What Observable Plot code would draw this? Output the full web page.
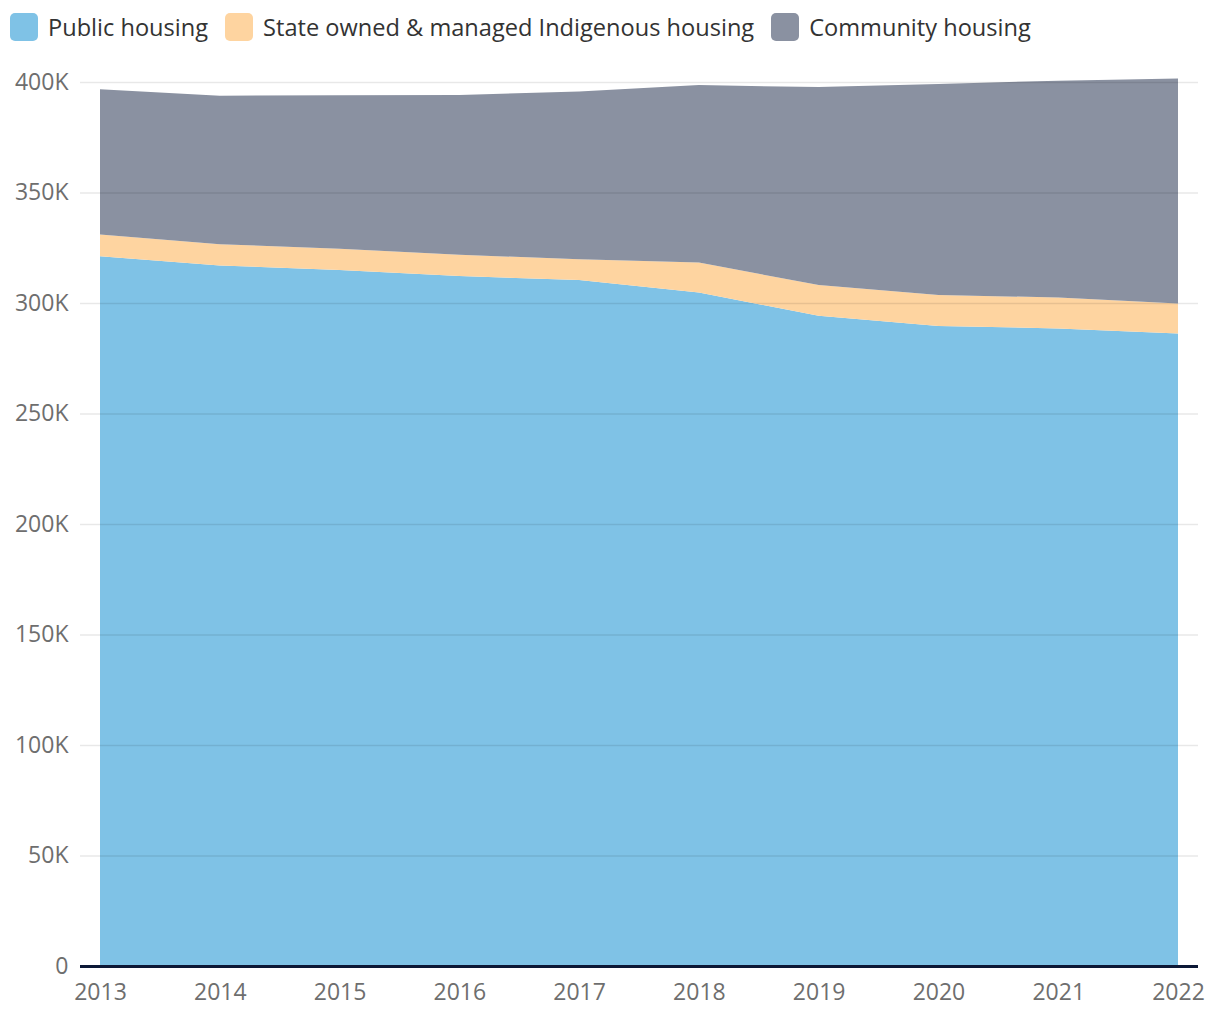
<!DOCTYPE html>
<html>
<head>
<meta charset="utf-8">
<script src="https://cdn.jsdelivr.net/npm/d3@7"></script>
<script src="https://cdn.jsdelivr.net/npm/@observablehq/plot@0.6"></script>
<style>
  html, body { margin: 0; padding: 0; background: #fff; }
  body { width: 1220px; height: 1020px; overflow: hidden; font-family: "Open Sans", sans-serif; }
  #legend { height: 54px; display: flex; align-items: center; padding-left: 10px; box-sizing: border-box; }
  .item { display: flex; align-items: center; margin-right: 17px; font-size: 23.6px; color: #333; }
  .sw { width: 28px; height: 28px; border-radius: 5px; margin-right: 10px; }
  #chart svg { display: block; }
</style>
</head>
<body>
<div id="legend"></div>
<div id="chart"></div>
<script>
const years = [2013, 2014, 2015, 2016, 2017, 2018, 2019, 2020, 2021, 2022];
const seriesNames = ["Public housing", "State owned & managed Indigenous housing", "Community housing"];
const publicHousing = [321.2, 317.0, 314.9, 312.2, 310.4, 304.8, 294.2, 289.6, 288.5, 286.2];
const somih = [9.8, 9.6, 9.7, 9.6, 9.4, 13.5, 13.9, 14.0, 14.0, 13.6];
const communityHousing = [65.7, 67.2, 69.4, 72.3, 75.9, 80.3, 89.6, 95.5, 98.1, 101.8];
const colors = ["#7fc2e6", "#fed4a0", "#8a91a1"];
const yTicks = [0, 50000, 100000, 150000, 200000, 250000, 300000, 350000, 400000];

const data = [];
const seriesValues = [publicHousing, somih, communityHousing];
seriesNames.forEach((name, i) => {
  years.forEach((yr, j) => data.push({ year: yr, series: name, value: seriesValues[i][j] * 1000 }));
});

const legend = document.getElementById("legend");
seriesNames.forEach((name, i) => {
  const it = document.createElement("div");
  it.className = "item";
  it.innerHTML = `<span class="sw" style="background:${colors[i]}"></span><span>${name.replace("&", "&amp;")}</span>`;
  legend.appendChild(it);
});

const chart = Plot.plot({
  width: 1220,
  height: 966,
  marginTop: 28,
  marginBottom: 54,
  marginLeft: 80,
  marginRight: 22,
  style: { fontFamily: "Open Sans, sans-serif", fontSize: "23px", color: "#6e6e6e", background: "#fff" },
  x: { domain: [2013, 2022], inset: 20 },
  y: { domain: [0, 400000] },
  color: { domain: seriesNames, range: colors },
  marks: [
    Plot.areaY(data, Plot.stackY({
      x: "year", y: "value", fill: "series", z: "series", order: seriesNames
    })),
    Plot.gridY(yTicks.filter(d => d > 0), { stroke: "#000", strokeOpacity: 0.09, strokeWidth: 1.5 }),
    Plot.axisY(yTicks, {
      tickSize: 0, tickPadding: 12, label: null, fill: "#6e6e6e",
      tickFormat: d => d === 0 ? "0" : (d / 1000) + "K"
    }),
    Plot.axisX(years, {
      tickSize: 0, tickPadding: 17, label: null, fill: "#6e6e6e", tickFormat: d => String(d)
    }),
    Plot.ruleY([0], { stroke: "#0c1836", strokeWidth: 3 })
  ]
});
document.getElementById("chart").appendChild(chart);
</script>
</body>
</html>
